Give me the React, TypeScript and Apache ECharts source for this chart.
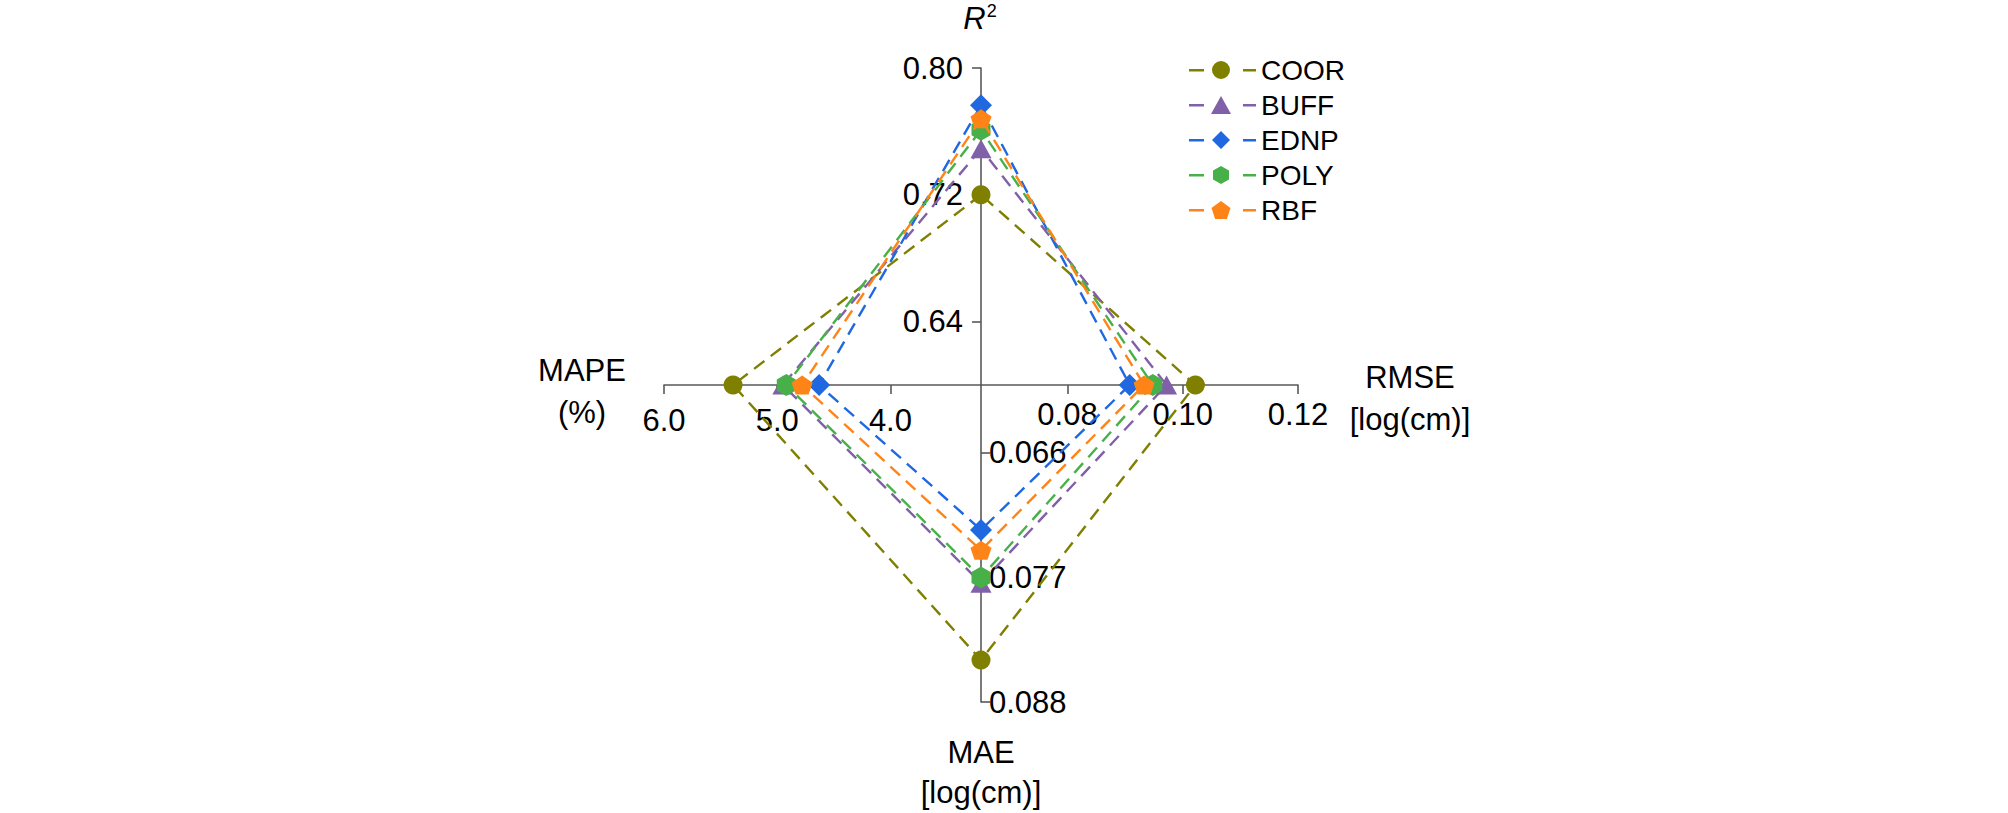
import React, { useEffect, useRef } from "react";
import * as echarts from "echarts";

// ---------- data ----------
const models = ["COOR", "BUFF", "EDNP", "POLY", "RBF"];
const r2Values = [0.72, 0.749, 0.7765, 0.761, 0.768];
const mapeValues = [5.39, 4.95, 4.63, 4.92, 4.78];
const maeValues = [0.0843, 0.0775, 0.0728, 0.077, 0.0746];
const rmseValues = [0.1022, 0.0972, 0.0908, 0.0948, 0.0933];

const r2Range = [0.6, 0.8];
const mapeRange = [3.2, 6.0];
const maeRange = [0.06, 0.088];
const rmseRange = [0.065, 0.12];

const r2Ticks = [0.64, 0.72, 0.8];
const rmseTicks = [0.08, 0.1, 0.12];
const maeTicks = [0.066, 0.077, 0.088];
const mapeTicks = [4.0, 5.0, 6.0];

// ---------- style ----------
const colors = ["#7f7f00", "#8060a8", "#2068e0", "#48b048", "#ff8418"];
const FONT = "'Liberation Sans', Arial, sans-serif";
const CX = 981;
const CY = 385;
const R = 317;

const HEX = "path://M50,0 L93.3,25 L93.3,75 L50,100 L6.7,75 L6.7,25 Z";
const PENT = "path://M50,0 L97.6,34.5 L79.4,90.5 L20.6,90.5 L2.4,34.5 Z";
const symbols = ["circle", "triangle", "diamond", HEX, PENT];
const symbolSizes: any[] = [19, [21, 19], 22, [19, 22], [21, 19]];

const dashes = "M0,8 L15,8 L15,10.4 L0,10.4 Z M54,8 L67,8 L67,10.4 L54,10.4 Z ";
const legendMarks = [
  "M23,9 A9,9 0 1,0 41,9 A9,9 0 1,0 23,9 Z",
  "M32,0 L42,18 L22,18 Z",
  "M32,0 L41,9 L32,18 L23,9 Z",
  "M32,0 L40,4.5 L40,13.5 L32,18 L24,13.5 L24,4.5 Z",
  "M32,0 L41.5,6.9 L37.9,18 L26.1,18 L22.5,6.9 Z",
];

const axisLineStyle = { color: "#595959", width: 1.6 };
const labelStyle = { color: "#000", fontSize: 31, fontFamily: FONT };

function shownAxis(extra: any) {
  return {
    type: "value",
    axisLine: { show: true, onZero: false, lineStyle: axisLineStyle },
    splitLine: { show: false },
    ...extra,
  };
}
function hiddenAxis(gridIndex: number) {
  return { type: "value", gridIndex, show: false, min: 0, max: 1, splitLine: { show: false } };
}

export default function App() {
  const ref = useRef<HTMLDivElement>(null);
  useEffect(() => {
    const chart = echarts.init(ref.current!, undefined, { renderer: "svg" });
    const option: any = {
      animation: false,
      backgroundColor: "#fff",
      grid: [
        { left: CX, top: CY - R, width: 10, height: R, outerBoundsMode: "none" },
        { left: CX, top: CY - 10, width: R, height: 10, outerBoundsMode: "none" },
        { left: CX - 10, top: CY, width: 10, height: R, outerBoundsMode: "none" },
        { left: CX - R, top: CY - 10, width: R, height: 10, outerBoundsMode: "none" },
      ],
      xAxis: [
        hiddenAxis(0),
        shownAxis({
          gridIndex: 1,
          position: "bottom",
          min: rmseRange[0],
          max: rmseRange[1],
          axisTick: { show: true, length: 9, lineStyle: axisLineStyle, customValues: rmseTicks },
          axisLabel: { ...labelStyle, margin: 14, customValues: rmseTicks, formatter: (v: number) => v.toFixed(2) },
        }),
        hiddenAxis(2),
        shownAxis({
          gridIndex: 3,
          position: "bottom",
          inverse: true,
          min: mapeRange[0],
          max: mapeRange[1],
          axisTick: { show: true, length: 9, lineStyle: axisLineStyle, customValues: mapeTicks },
          axisLabel: { ...labelStyle, margin: 20, customValues: mapeTicks, formatter: (v: number) => v.toFixed(1) },
        }),
      ],
      yAxis: [
        shownAxis({
          gridIndex: 0,
          position: "left",
          min: r2Range[0],
          max: r2Range[1],
          axisTick: { show: true, length: 9, lineStyle: axisLineStyle, customValues: r2Ticks },
          axisLabel: { ...labelStyle, margin: 18, customValues: r2Ticks, formatter: (v: number) => v.toFixed(2) },
        }),
        hiddenAxis(1),
        shownAxis({
          gridIndex: 2,
          position: "right",
          inverse: true,
          min: maeRange[0],
          max: maeRange[1],
          axisTick: { show: true, length: 9, lineStyle: axisLineStyle, customValues: maeTicks },
          axisLabel: { ...labelStyle, margin: 8, customValues: maeTicks, formatter: (v: number) => v.toFixed(3) },
        }),
        hiddenAxis(3),
      ],
      radar: {
        center: [CX, CY],
        radius: R,
        startAngle: 90,
        shape: "polygon",
        splitNumber: 4,
        indicator: [
          { name: "R2", min: r2Range[0], max: r2Range[1] },
          { name: "MAPE", min: mapeRange[0], max: mapeRange[1] },
          { name: "MAE", min: maeRange[0], max: maeRange[1] },
          { name: "RMSE", min: rmseRange[0], max: rmseRange[1] },
        ],
        axisName: { show: false },
        axisLine: { show: false },
        splitLine: { show: false },
        splitArea: { show: false },
        axisTick: { show: false },
        axisLabel: { show: false },
      },
      legend: {
        orient: "vertical",
        left: 1184,
        top: 51,
        itemWidth: 67,
        itemHeight: 18,
        itemGap: 7,
        textStyle: { color: "#000", fontSize: 28, fontFamily: FONT },
        data: models.map((m, i) => ({
          name: m,
          icon: "path://" + dashes + legendMarks[i],
          itemStyle: { color: colors[i], borderWidth: 0 },
        })),
      },
      graphic: [
        {
          type: "text",
          x: 980,
          y: 18,
          style: {
            text: "{i|R}{s|2}",
            align: "center",
            verticalAlign: "middle",
            fill: "#000",
            rich: {
              i: { fontStyle: "italic", fontSize: 31, fontFamily: FONT, fill: "#000", lineHeight: 32 },
              s: { fontSize: 18, fontFamily: FONT, fill: "#000", verticalAlign: "top", lineHeight: 32, padding: [0, 0, 14, 1] },
            },
          },
        },
        {
          type: "text",
          x: 582,
          y: 391,
          style: { text: "MAPE\n(%)", align: "center", verticalAlign: "middle", fontSize: 31, fontFamily: FONT, fill: "#000", lineHeight: 42 },
        },
        {
          type: "text",
          x: 1410,
          y: 398,
          style: { text: "RMSE\n[log(cm)]", align: "center", verticalAlign: "middle", fontSize: 31, fontFamily: FONT, fill: "#000", lineHeight: 42 },
        },
        {
          type: "text",
          x: 981,
          y: 772,
          style: { text: "MAE\n[log(cm)]", align: "center", verticalAlign: "middle", fontSize: 31, fontFamily: FONT, fill: "#000", lineHeight: 40 },
        },
      ],
      series: models.map((m, i) => ({
        type: "radar",
        name: m,
        symbol: symbols[i],
        symbolSize: symbolSizes[i],
        z: 2 + i,
        lineStyle: { color: colors[i], width: 2.4, type: [13, 8] },
        itemStyle: { color: colors[i], borderWidth: 0 },
        data: [{ name: m, value: [r2Values[i], mapeValues[i], maeValues[i], rmseValues[i]] }],
      })),
    };
    chart.setOption(option);
    return () => chart.dispose();
  }, []);
  return <div ref={ref} style={{ position: "absolute", left: 0, top: 0, width: 2008, height: 813 }} />;
}
